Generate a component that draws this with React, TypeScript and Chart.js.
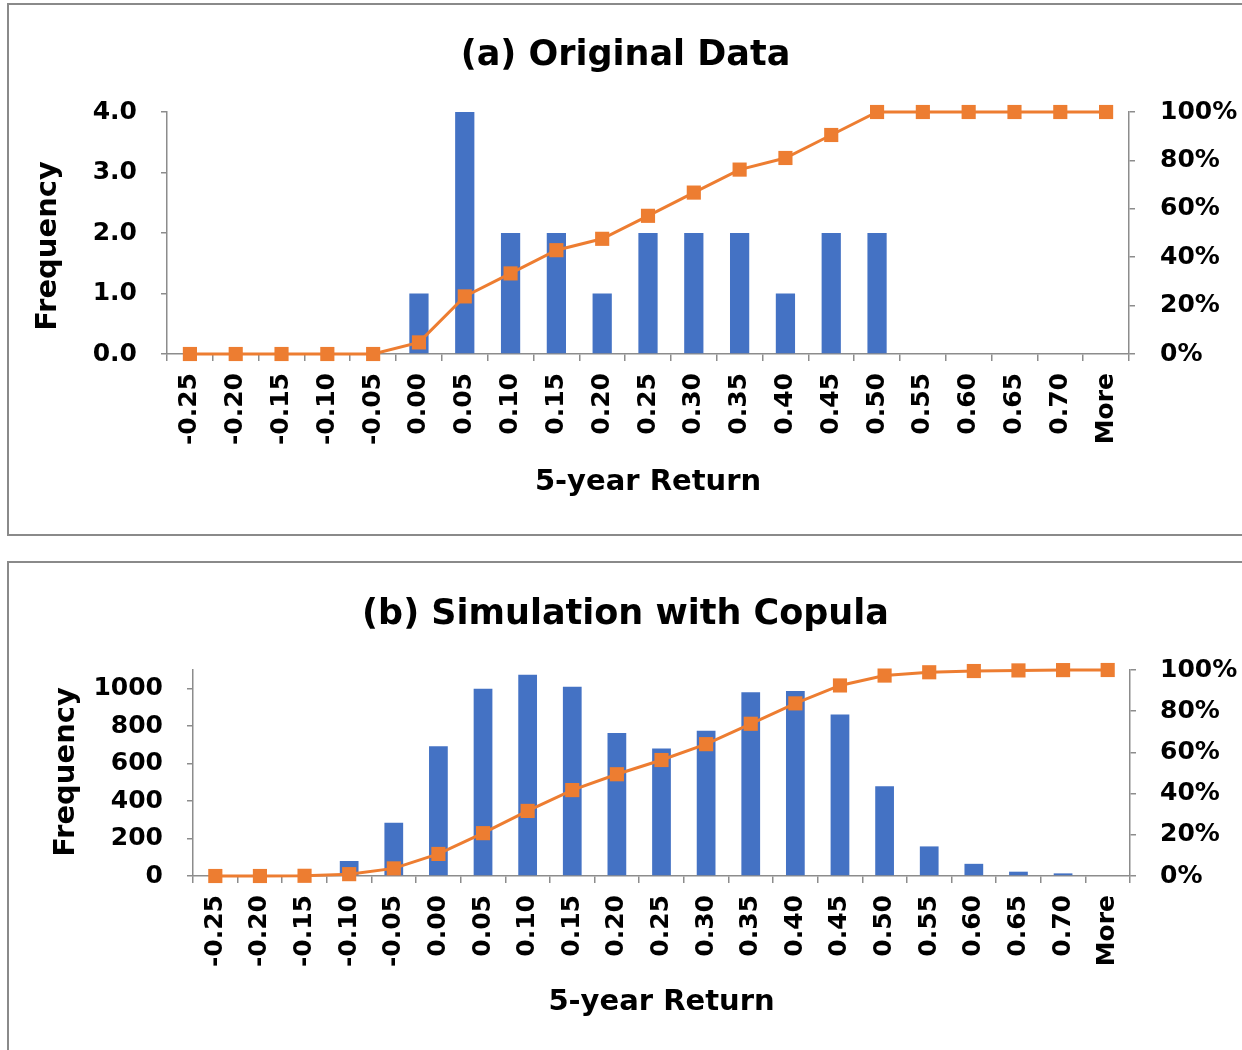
import React, { useEffect, useRef } from 'react';
import { Chart, registerables } from 'chart.js';

Chart.register(...registerables);

// Histogram bins (upper edge of each 5-year return bin)
const returnBins = [
  '-0.25', '-0.20', '-0.15', '-0.10', '-0.05', '0.00', '0.05', '0.10', '0.15', '0.20',
  '0.25', '0.30', '0.35', '0.40', '0.45', '0.50', '0.55', '0.60', '0.65', '0.70', 'More',
];

// (a) original observations
const originalFrequency = [0, 0, 0, 0, 0, 1, 4, 2, 2, 1, 2, 2, 2, 1, 2, 2, 0, 0, 0, 0, 0];
const originalCumulative = [
  0, 0, 0, 0, 0, 0.048, 0.238, 0.333, 0.429, 0.476, 0.571, 0.667, 0.762, 0.81, 0.905, 1, 1, 1, 1, 1, 1,
];
const originalFrequencyTicks = [0, 1, 2, 3, 4];

// (b) copula simulation
const copulaFrequency = [
  0, 0, 3, 80, 284, 693, 1000, 1075, 1011, 764, 681, 775, 981, 988, 863, 479, 158, 65, 23, 14, 0,
];
const copulaCumulative = [
  0, 0, 0.001, 0.009, 0.037, 0.107, 0.208, 0.316, 0.417, 0.494, 0.563, 0.64, 0.739, 0.838, 0.925,
  0.973, 0.989, 0.995, 0.998, 0.9995, 1,
];
const copulaFrequencyTicks = [0, 200, 400, 600, 800, 1000];

// Cumulative share axis
const percentTicks = [0, 0.2, 0.4, 0.6, 0.8, 1];

const BLUE = '#4472C4';
const ORANGE = '#ED7D31';
const AXIS_GREY = '#8c8c8c';
const FONT = "'DejaVu Sans', 'Liberation Sans', Arial, sans-serif";

type PanelLayout = {
  width: number;
  height: number;
  plotLeft: number;
  plotRight: number;
  plotTop: number;
  plotBottom: number;
  titleCenterY: number;
  yTitleCenterX: number;
  yTitleCenterY: number;
  xTitleCenterY: number;
  yLabelGap: number;
  rightLabelGap: number;
};

type PanelProps = {
  title: string;
  frequency: number[];
  cumulative: number[];
  freqMax: number;
  freqTicks: number[];
  freqDigits: number;
  layout: PanelLayout;
};

function HistogramPanel({ title, frequency, cumulative, freqMax, freqTicks, freqDigits, layout }: PanelProps) {
  const ref = useRef<HTMLCanvasElement>(null);

  useEffect(() => {
    const L = layout;
    const titleSize = 35;
    const titleLH = titleSize * 1.2;
    const axisTitleSize = 29;
    const axisLH = axisTitleSize * 1.2;
    const tickFont = { family: FONT, size: 25, weight: 'bold' as const };
    const yTick = 6;
    const xTick = 7;

    // Rotated "Frequency" label beside the left axis
    const frequencyTitle = {
      id: 'frequencyTitle',
      afterDraw(chart: any) {
        const ctx = chart.ctx as CanvasRenderingContext2D;
        ctx.save();
        ctx.translate(L.yTitleCenterX, L.yTitleCenterY);
        ctx.rotate(-Math.PI / 2);
        ctx.font = `bold ${axisTitleSize}px ${FONT}`;
        ctx.fillStyle = '#000';
        ctx.textAlign = 'center';
        ctx.textBaseline = 'middle';
        ctx.fillText('Frequency', 0, 0);
        ctx.restore();
      },
    };

    const chart = new Chart(ref.current as HTMLCanvasElement, {
      type: 'bar',
      data: {
        labels: returnBins,
        datasets: [
          {
            type: 'line',
            label: 'Cumulative %',
            data: cumulative,
            yAxisID: 'yPct',
            borderColor: ORANGE,
            backgroundColor: ORANGE,
            borderWidth: 3,
            pointStyle: 'rect',
            pointRadius: 10,
            pointBorderWidth: 0,
            pointBackgroundColor: ORANGE,
            tension: 0,
            clip: false,
            order: 0,
          } as any,
          {
            type: 'bar',
            label: 'Frequency',
            data: frequency,
            yAxisID: 'yFreq',
            backgroundColor: BLUE,
            barPercentage: 0.42,
            categoryPercentage: 1,
            order: 1,
          },
        ],
      },
      plugins: [frequencyTitle],
      options: {
        responsive: false,
        maintainAspectRatio: false,
        animation: false,
        layout: { padding: 0 },
        plugins: {
          legend: { display: false },
          tooltip: { enabled: false },
          title: {
            display: true,
            text: title,
            color: '#000',
            font: { family: FONT, size: titleSize, weight: 'bold', lineHeight: 1.2 },
            padding: {
              top: L.titleCenterY - titleLH / 2,
              bottom: L.plotTop - (L.titleCenterY + titleLH / 2),
            },
          },
        },
        scales: {
          x: {
            offset: true,
            grid: {
              offset: true,
              drawOnChartArea: false,
              drawTicks: true,
              tickLength: xTick,
              color: AXIS_GREY,
              lineWidth: 1.5,
            },
            border: { display: true, color: AXIS_GREY, width: 1.5 },
            ticks: {
              color: '#000',
              font: tickFont,
              autoSkip: false,
              minRotation: 90,
              maxRotation: 90,
              padding: 12,
            },
            title: {
              display: true,
              text: '5-year Return',
              color: '#000',
              font: { family: FONT, size: axisTitleSize, weight: 'bold', lineHeight: 1.2 },
              padding: { top: 0, bottom: L.height - L.xTitleCenterY - axisLH / 2 },
            },
            afterFit: (s: any) => {
              s.height = L.height - L.plotBottom;
            },
          },
          yFreq: {
            type: 'linear',
            position: 'left',
            min: 0,
            max: freqMax,
            grid: {
              drawOnChartArea: false,
              drawTicks: true,
              tickLength: yTick,
              color: AXIS_GREY,
              lineWidth: 1.5,
            },
            border: { display: true, color: AXIS_GREY, width: 1.5 },
            ticks: {
              color: '#000',
              font: tickFont,
              padding: L.yLabelGap - yTick,
              callback: (v: any) => Number(v).toFixed(freqDigits),
            },
            afterBuildTicks: (s: any) => {
              s.ticks = freqTicks.map((value) => ({ value }));
            },
            afterFit: (s: any) => {
              s.width = L.plotLeft;
            },
          },
          yPct: {
            type: 'linear',
            position: 'right',
            min: 0,
            max: 1,
            grid: {
              drawOnChartArea: false,
              drawTicks: true,
              tickLength: yTick,
              color: AXIS_GREY,
              lineWidth: 1.5,
            },
            border: { display: true, color: AXIS_GREY, width: 1.5 },
            ticks: {
              color: '#000',
              font: tickFont,
              padding: L.rightLabelGap - yTick,
              callback: (v: any) => Math.round(Number(v) * 100) + '%',
            },
            afterBuildTicks: (s: any) => {
              s.ticks = percentTicks.map((value) => ({ value }));
            },
            afterFit: (s: any) => {
              s.width = L.width - L.plotRight;
            },
          },
        },
      } as any,
    });

    return () => chart.destroy();
  }, []);

  return (
    <canvas
      ref={ref}
      width={layout.width}
      height={layout.height}
      style={{ display: 'block', width: layout.width, height: layout.height }}
    />
  );
}

const boxStyle: React.CSSProperties = {
  position: 'absolute',
  left: 7,
  width: 1270,
  border: '2px solid #8a8a8a',
  boxSizing: 'border-box',
  background: '#fff',
  overflow: 'hidden',
};

export default function App() {
  useEffect(() => {
    document.body.style.margin = '0';
    document.body.style.overflow = 'hidden';
  }, []);

  return (
    <div style={{ position: 'relative', width: 1242, height: 1050, overflow: 'hidden', background: '#fff' }}>
      <div style={{ ...boxStyle, top: 3, height: 533 }}>
        <HistogramPanel
          title="(a) Original Data"
          frequency={originalFrequency}
          cumulative={originalCumulative}
          freqMax={4}
          freqTicks={originalFrequencyTicks}
          freqDigits={1}
          layout={{
            width: 1233,
            height: 529,
            plotLeft: 158,
            plotRight: 1120,
            plotTop: 107,
            plotBottom: 349,
            titleCenterY: 51,
            yTitleCenterX: 39,
            yTitleCenterY: 241,
            xTitleCenterY: 477,
            yLabelGap: 30,
            rightLabelGap: 31,
          }}
        />
      </div>
      <div style={{ ...boxStyle, top: 561, height: 520 }}>
        <HistogramPanel
          title="(b) Simulation with Copula"
          frequency={copulaFrequency}
          cumulative={copulaCumulative}
          freqMax={1100}
          freqTicks={copulaFrequencyTicks}
          freqDigits={0}
          layout={{
            width: 1233,
            height: 487,
            plotLeft: 184,
            plotRight: 1121,
            plotTop: 107,
            plotBottom: 313,
            titleCenterY: 52,
            yTitleCenterX: 57,
            yTitleCenterY: 209,
            xTitleCenterY: 439,
            yLabelGap: 30,
            rightLabelGap: 30,
          }}
        />
      </div>
    </div>
  );
}
